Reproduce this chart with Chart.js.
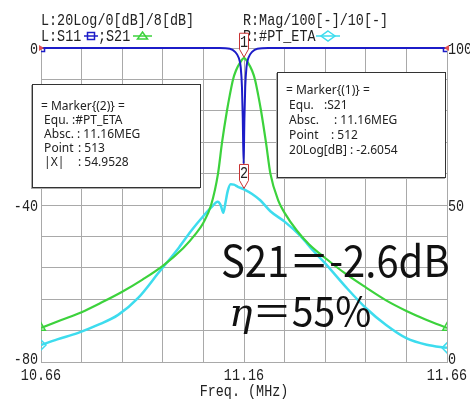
<!DOCTYPE html>
<html>
<head>
<meta charset="utf-8">
<script src="https://cdn.jsdelivr.net/npm/chart.js@4.4.0/dist/chart.umd.min.js"></script>
<style>
    body { margin: 0; background: #fff; }
    #wrap { position: relative; width: 470px; height: 403px; overflow: hidden; }
    canvas { position: absolute; left: 0; top: 0; }
    .mbox {
        position: absolute; background: #fff; border: 1px solid #333;
        box-shadow: -1px 1px 0 #aaa;
        font: 12px "Noto Sans", sans-serif; color: #222; box-sizing: border-box;
    }
    .mbox div { position: relative; white-space: pre; }
    .mbox span { position: absolute; top: 0; }
    .big { position: absolute; color: #111; white-space: pre; line-height: 1; transform-origin: 0 0; }
</style>
</head>
<body>
<div id="wrap">
    <canvas id="chart" width="470" height="403"></canvas>

    <div class="mbox" style="left:32px; top:84px; width:169px; height:104px; padding:14px 0 0 8px; line-height:14px;">
        <div>= Marker{(2)} =</div>
        <div> Equ.<span style="left:31px">:#PT_ETA</span></div>
        <div> Absc.<span style="left:36px">: 11.16MEG</span></div>
        <div> Point<span style="left:37px">: 513</span></div>
        <div> |X|<span style="left:37px">: 54.9528</span></div>
    </div>

    <div class="mbox" style="left:277px; top:72px; width:169px; height:106px; padding:9px 0 0 8px; line-height:15px;">
        <div>= Marker{(1)} =</div>
        <div> Equ.<span style="left:38px">:S21</span></div>
        <div> Absc.<span style="left:48px">: 11.16MEG</span></div>
        <div> Point<span style="left:45px">: 512</span></div>
        <div> 20Log[dB] : -2.6054</div>
    </div>

    <div class="big" style="left:221px; top:237px; font-size:43px; font-family:'Noto Sans CJK JP'; transform:scaleX(0.93);">S21＝-2.6dB</div>
    <div class="big" style="left:229px; top:289px; font-size:40px; font-family:'Noto Sans CJK JP'; transform:scaleX(0.98);"><span style="font-family:'DejaVu Serif'; font-style:italic;">η</span>＝55%</div>
</div>

<script>
// S11 [dB], left axis
const freqS11 = [10.66, 11.10, 11.125, 11.138, 11.147, 11.152, 11.155, 11.157, 11.159, 11.161, 11.163, 11.166, 11.171, 11.18, 11.193, 11.22, 11.66];
const s11 = [0, 0, -0.2, -1, -2.5, -5, -10, -18, -29.5, -18, -10, -5, -2.5, -1, -0.2, 0, 0];

// S21 [dB], left axis
const freqS21 = [10.66, 10.71, 10.76, 10.81, 10.86, 10.91, 10.96, 11.01, 11.04, 11.06, 11.079, 11.096, 11.106, 11.118, 11.125, 11.133, 11.14, 11.15, 11.16,
    11.17, 11.18, 11.187, 11.195, 11.202, 11.214, 11.225, 11.245, 11.26, 11.29, 11.32, 11.36, 11.41, 11.46, 11.51, 11.56, 11.61, 11.66];
const s21 = [-71.3, -69.3, -67.3, -64.8, -62.1, -59, -55.5, -51, -47.5, -44.5, -40, -32, -24, -16, -12, -8, -5.8, -3.8, -2.6,
    -3.8, -5.8, -8, -12, -16, -24, -32, -39, -42, -46.5, -50, -53.5, -57.5, -61, -64.3, -67, -69.3, -71.3];

// PT_ETA [%], right axis
const freqEta = [10.66, 10.70, 10.75, 10.80, 10.85, 10.90, 10.95, 11.00, 11.03, 11.06, 11.08, 11.095, 11.103, 11.109, 11.114, 11.12, 11.127, 11.135, 11.145, 11.16,
    11.18, 11.20, 11.225, 11.26, 11.30, 11.33, 11.36, 11.41, 11.46, 11.51, 11.56, 11.61, 11.66];
const eta = [5.4, 7.2, 9.2, 11.8, 15, 20.5, 28.5, 36.5, 41.8, 46.5, 49.3, 51, 49.8, 47.5, 50.5, 54.5, 56.6, 56.5, 55.8, 55,
    53.5, 51.5, 48, 44.7, 40, 35.5, 31.4, 24, 17.2, 11.8, 7.6, 5.5, 4.5];

// axes
const xTicks = [10.66, 10.76, 10.86, 10.96, 11.06, 11.16, 11.26, 11.36, 11.46, 11.56, 11.66];
const xLabels = ['10.66', '', '', '', '', '11.16', '', '', '', '', '11.66'];
const leftTicks = [0, -8, -16, -24, -32, -40, -48, -56, -64, -72, -80];
const leftLabels = ['0', '', '', '', '', '-40', '', '', '', '', '-80'];
const rightTicks = [100, 90, 80, 70, 60, 50, 40, 30, 20, 10, 0];
const rightLabels = ['100', '', '', '', '', '50', '', '', '', '', '0'];

// markers
const markerNames = ['1', '2'];
const markerFreq = [11.16, 11.16];
const markerValue = [-2.6054, 54.9528];
const markerAxis = ['y', 'y2'];

const BLUE = '#1c1cc8', GREEN = '#3cd23c', CYAN = '#3ddcee', GRID = '#a9a9a9';

function pts(xs, ys) {
    return xs.map((x, i) => ({x: x, y: ys[i]}));
}

function endRadius(n) {
    return function (ctx) {
        return (ctx.dataIndex === 0 || ctx.dataIndex === n - 1) ? 5 : 0;
    };
}

function condText(ctx, s, x, y, align) {
    const sx = 0.79;
    ctx.save();
    ctx.font = '17px "Liberation Mono"';
    const w = ctx.measureText(s).width * sx;
    let x0 = x;
    if (align === 'right') x0 = x - w;
    if (align === 'center') x0 = x - w / 2;
    ctx.translate(x0, y);
    ctx.scale(sx, 1);
    ctx.fillStyle = '#222';
    ctx.textAlign = 'left';
    ctx.textBaseline = 'alphabetic';
    ctx.fillText(s, 0, 0);
    ctx.restore();
}

function legendSym(ctx, x1, x2, y, color, shape) {
    ctx.save();
    ctx.strokeStyle = color;
    ctx.lineWidth = 1.5;
    ctx.beginPath();
    ctx.moveTo(x1, y);
    ctx.lineTo(x2, y);
    ctx.stroke();
    const cx = (x1 + x2) / 2;
    ctx.beginPath();
    if (shape === 'rect') {
        ctx.rect(cx - 3.5, y - 3.5, 7, 7);
    } else if (shape === 'tri') {
        ctx.moveTo(cx, y - 4);
        ctx.lineTo(cx + 5, y + 3);
        ctx.lineTo(cx - 5, y + 3);
        ctx.closePath();
    } else {
        ctx.moveTo(cx, y - 5);
        ctx.lineTo(cx + 7, y);
        ctx.lineTo(cx, y + 5);
        ctx.lineTo(cx - 7, y);
        ctx.closePath();
    }
    ctx.stroke();
    ctx.restore();
}

const overlay = {
    id: 'overlay',
    afterDraw(chart) {
        const ctx = chart.ctx;
        const xs = chart.scales.x, yl = chart.scales.y, yr = chart.scales.y2;
        const area = chart.chartArea;

        // header
        condText(ctx, 'L:20Log/0[dB]/8[dB]', 41, 24.5, 'left');
        condText(ctx, 'R:Mag/100[-]/10[-]', 243, 24.5, 'left');
        condText(ctx, 'L:S11', 41, 40.5, 'left');
        legendSym(ctx, 84, 98, 36, BLUE, 'rect');
        condText(ctx, ';S21', 98, 40.5, 'left');
        legendSym(ctx, 133, 152, 36, GREEN, 'tri');
        condText(ctx, 'R:#PT_ETA', 243, 40.5, 'left');
        legendSym(ctx, 316, 340, 36, CYAN, 'dia');

        // tick labels
        xTicks.forEach((v, i) => {
            if (xLabels[i]) condText(ctx, xLabels[i], xs.getPixelForValue(v), 380, 'center');
        });
        leftTicks.forEach((v, i) => {
            if (!leftLabels[i]) return;
            let y = yl.getPixelForValue(v) + 5.5;
            if (i === leftTicks.length - 1) y -= 4;
            condText(ctx, leftLabels[i], area.left - 3, y, 'right');
        });
        rightTicks.forEach((v, i) => {
            if (!rightLabels[i]) return;
            let y = yr.getPixelForValue(v) + 5.5;
            if (i === rightTicks.length - 1) y -= 4;
            condText(ctx, rightLabels[i], area.right + 1, y, 'left');
        });
        condText(ctx, 'Freq. (MHz)', (area.left + area.right) / 2, 396, 'center');

        // small red reference arrows on the 0 dB line
        ctx.save();
        ctx.fillStyle = '#e05050';
        ctx.beginPath();
        ctx.moveTo(area.left - 2, area.top - 3);
        ctx.lineTo(area.left + 3, area.top);
        ctx.lineTo(area.left - 2, area.top + 3);
        ctx.fill();
        ctx.beginPath();
        ctx.moveTo(area.right + 2, area.top - 3);
        ctx.lineTo(area.right - 3, area.top);
        ctx.lineTo(area.right + 2, area.top + 3);
        ctx.fill();
        ctx.restore();

        // marker flags
        markerNames.forEach((name, i) => {
            const sc = markerAxis[i] === 'y' ? yl : yr;
            const tx = xs.getPixelForValue(markerFreq[i]);
            const ty = sc.getPixelForValue(markerValue[i]) - 1;
            ctx.save();
            ctx.beginPath();
            ctx.moveTo(tx, ty);
            ctx.lineTo(tx - 4.5, ty - 8);
            ctx.lineTo(tx - 4.5, ty - 24);
            ctx.lineTo(tx + 4.5, ty - 24);
            ctx.lineTo(tx + 4.5, ty - 8);
            ctx.closePath();
            ctx.fillStyle = '#fff';
            ctx.fill();
            ctx.strokeStyle = '#c83232';
            ctx.lineWidth = 1;
            ctx.stroke();
            ctx.restore();
            condText(ctx, name, tx, ty - 10, 'center');
        });
    }
};

new Chart(document.getElementById('chart').getContext('2d'), {
    type: 'line',
    data: {
        datasets: [
            {
                label: 'S11', data: pts(freqS11, s11), yAxisID: 'y',
                borderColor: BLUE, borderWidth: 2, cubicInterpolationMode: 'monotone',
                pointStyle: 'rect', pointRadius: endRadius(freqS11.length), pointBorderColor: BLUE,
                pointBackgroundColor: 'rgba(0,0,0,0)', pointBorderWidth: 1.5,
                clip: {left: 0, top: 1, right: 0, bottom: 0}
            },
            {
                label: 'S21', data: pts(freqS21, s21), yAxisID: 'y',
                borderColor: GREEN, borderWidth: 2.2, cubicInterpolationMode: 'monotone',
                pointStyle: 'triangle', pointRadius: endRadius(freqS21.length), pointBorderColor: GREEN,
                pointBackgroundColor: 'rgba(0,0,0,0)', pointBorderWidth: 1.5,
                clip: 0
            },
            {
                label: '#PT_ETA', data: pts(freqEta, eta), yAxisID: 'y2',
                borderColor: CYAN, borderWidth: 2.5, cubicInterpolationMode: 'monotone',
                pointStyle: 'rectRot', pointRadius: endRadius(freqEta.length), pointBorderColor: CYAN,
                pointBackgroundColor: 'rgba(0,0,0,0)', pointBorderWidth: 1.5,
                clip: 0
            }
        ]
    },
    options: {
        responsive: false,
        animation: false,
        devicePixelRatio: 1,
        layout: {padding: {left: 41, right: 23, top: 48, bottom: 41}},
        plugins: {legend: {display: false}, tooltip: {enabled: false}},
        scales: {
            x: {
                type: 'linear', min: 10.66, max: 11.66,
                afterBuildTicks: function (axis) {
                    axis.ticks = xTicks.map(v => ({value: v}));
                },
                ticks: {display: false},
                grid: {color: GRID, lineWidth: 1, drawTicks: false},
                border: {display: true, color: GRID}
            },
            y: {
                type: 'linear', position: 'left', min: -80, max: 0,
                afterBuildTicks: function (axis) {
                    axis.ticks = leftTicks.map(v => ({value: v}));
                },
                ticks: {display: false},
                grid: {color: GRID, lineWidth: 1, drawTicks: false},
                border: {display: true, color: GRID}
            },
            y2: {
                type: 'linear', position: 'right', min: 0, max: 100,
                afterBuildTicks: function (axis) {
                    axis.ticks = rightTicks.map(v => ({value: v}));
                },
                ticks: {display: false},
                grid: {display: false, drawTicks: false},
                border: {display: true, color: GRID}
            }
        }
    },
    plugins: [overlay]
});
</script>
</body>
</html>
